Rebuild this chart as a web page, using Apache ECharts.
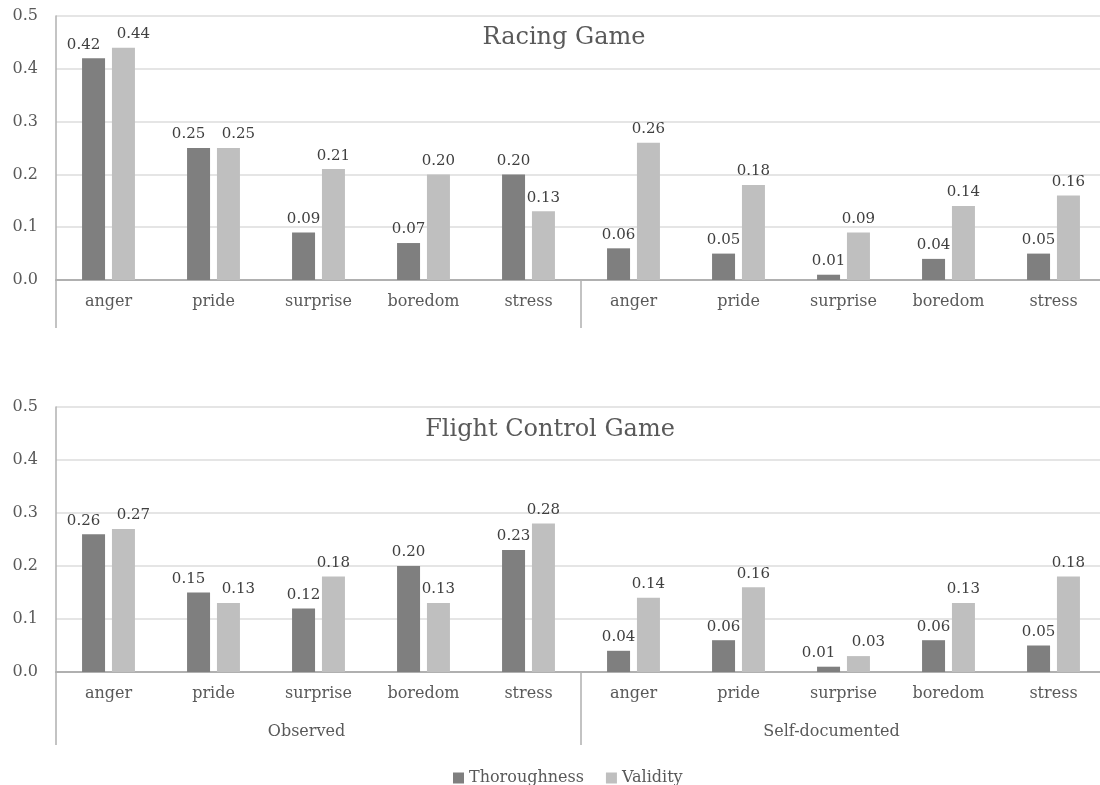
<!DOCTYPE html>
<html>
<head>
<meta charset="utf-8">
<script src="https://cdn.jsdelivr.net/npm/echarts@6/dist/echarts.min.js"></script>
<style>
  html, body { margin: 0; padding: 0; background: #ffffff; }
  #chart { width: 1100px; height: 785px; }
</style>
</head>
<body>
<div id="chart"></div>
<script>
// Emotion categories, repeated under each source group
const emotions = ['anger', 'pride', 'surprise', 'boredom', 'stress'];
const groups = ['Observed', 'Self-documented'];
const categories = emotions.concat(emotions);
const yTicks = [0, 0.1, 0.2, 0.3, 0.4, 0.5];

// Racing Game: Observed (first five) then Self-documented (last five)
const racingThoroughness = [0.42, 0.25, 0.09, 0.07, 0.20, 0.06, 0.05, 0.01, 0.04, 0.05];
const racingValidity     = [0.44, 0.25, 0.21, 0.20, 0.13, 0.26, 0.18, 0.09, 0.14, 0.16];

// Flight Control Game
const flightThoroughness = [0.26, 0.15, 0.12, 0.20, 0.23, 0.04, 0.06, 0.01, 0.06, 0.05];
const flightValidity     = [0.27, 0.13, 0.18, 0.13, 0.28, 0.14, 0.16, 0.03, 0.13, 0.18];

const FONT = 'DejaVu Serif';
const AXIS_GRAY = '#b0b0b0';
const GRID_GRAY = '#dcdcdc';
const TEXT_GRAY = '#595959';
const DARK = '#7f7f7f';
const LIGHT = '#bfbfbf';

const chart = echarts.init(document.getElementById('chart'), null, { renderer: 'canvas' });

function valueAxis(gridIndex) {
  return {
    type: 'value', gridIndex: gridIndex,
    min: yTicks[0], max: yTicks[yTicks.length - 1], interval: 0.1,
    axisLine: { show: true, lineStyle: { color: AXIS_GRAY, width: 1.5 } },
    axisTick: { show: false },
    splitLine: { lineStyle: { color: GRID_GRAY, width: 1.5 } },
    axisLabel: { color: TEXT_GRAY, fontFamily: FONT, fontSize: 16, margin: 18,
                 formatter: v => v.toFixed(1) }
  };
}

function emotionAxis(gridIndex) {
  return {
    type: 'category', gridIndex: gridIndex, data: categories, position: 'bottom',
    axisLine: { show: true, onZero: false, lineStyle: { color: AXIS_GRAY, width: 2 } },
    axisTick: { show: false },
    axisLabel: { color: TEXT_GRAY, fontFamily: FONT, fontSize: 16, margin: 14 }
  };
}

function groupAxis(gridIndex, tickLen, showLabels) {
  return {
    type: 'category', gridIndex: gridIndex, data: groups, position: 'bottom',
    axisLine: { show: false },
    axisTick: { show: true, length: tickLen, lineStyle: { color: AXIS_GRAY, width: 1.5 } },
    axisLabel: { show: showLabels, color: TEXT_GRAY, fontFamily: FONT, fontSize: 16,
                 margin: 52, padding: [0, 24, 0, 0] }
  };
}

// When the two value labels of a category sit at nearly the same height,
// nudge them sideways so they do not run into each other.
function pairLayout(own, other, side) {
  return function (params) {
    const i = params.dataIndex;
    const h = params.rect.height / own[i] || 0;  // pixels per unit
    const gap = Math.abs(own[i] - other[i]) * (h || 528);
    return gap < 16 ? { dx: side * 10 } : {};
  };
}

function barSeries(name, data, other, side, xIndex, yIndex, color) {
  return {
    type: 'bar', name: name, data: data,
    xAxisIndex: xIndex, yAxisIndex: yIndex,
    barWidth: 23, barGap: '30%',
    itemStyle: { color: color },
    label: {
      show: true, position: 'top', distance: 6,
      color: '#404040', fontFamily: FONT, fontSize: 15,
      formatter: p => p.value.toFixed(2)
    },
    labelLayout: pairLayout(data, other, side),
    emphasis: { disabled: true }
  };
}

chart.setOption({
  animation: false,
  backgroundColor: '#ffffff',
  textStyle: { fontFamily: FONT },
  title: [
    { text: 'Racing Game', left: 564, top: 26, textAlign: 'center', padding: 0,
      textStyle: { color: TEXT_GRAY, fontFamily: FONT, fontSize: 24, fontWeight: 'normal' } },
    { text: 'Flight Control Game', left: 550, top: 418, textAlign: 'center', padding: 0,
      textStyle: { color: TEXT_GRAY, fontFamily: FONT, fontSize: 24, fontWeight: 'normal' } }
  ],
  legend: {
    data: ['Thoroughness', 'Validity'],
    left: 448, top: 765,
    icon: 'rect', itemWidth: 11, itemHeight: 11, itemGap: 22, itemStyle: { borderWidth: 0 },
    textStyle: { color: TEXT_GRAY, fontFamily: FONT, fontSize: 16 }
  },
  // The plot runs slightly past the right edge of the canvas
  grid: [
    { left: 56, width: 1050, top: 16, height: 264, outerBoundsMode: 'none', containLabel: false },
    { left: 56, width: 1050, top: 407, height: 265, outerBoundsMode: 'none', containLabel: false }
  ],
  xAxis: [
    emotionAxis(0),
    groupAxis(0, 48, false),
    emotionAxis(1),
    groupAxis(1, 73, true)
  ],
  yAxis: [valueAxis(0), valueAxis(1)],
  series: [
    barSeries('Thoroughness', racingThoroughness, racingValidity, -1, 0, 0, DARK),
    barSeries('Validity', racingValidity, racingThoroughness, 1, 0, 0, LIGHT),
    barSeries('Thoroughness', flightThoroughness, flightValidity, -1, 2, 1, DARK),
    barSeries('Validity', flightValidity, flightThoroughness, 1, 2, 1, LIGHT)
  ]
});
</script>
</body>
</html>
